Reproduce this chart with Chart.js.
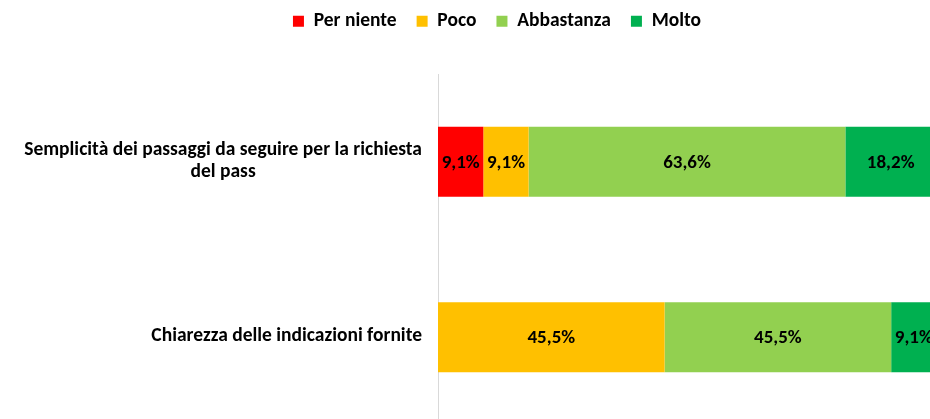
<!DOCTYPE html>
<html>
<head>
<meta charset="utf-8">
<script src="https://cdn.jsdelivr.net/npm/chart.js@4"></script>
<style>
    html, body { margin: 0; padding: 0; overflow: hidden; background: #fff; }
    #wrap { width: 940px; height: 430px; }
</style>
</head>
<body>
<div id="wrap"><canvas id="chart" width="940" height="430"></canvas></div>
<script>
// === DATI ===
const categories = [
    ["Semplicità dei passaggi da seguire per la richiesta", "del pass"],
    ["Chiarezza delle indicazioni fornite"]
];
const seriesNames = ["Per niente", "Poco", "Abbastanza", "Molto"];
const perNiente = [9.1, null];
const poco = [9.1, 45.5];
const abbastanza = [63.6, 45.5];
const molto = [18.2, 9.1];
const seriesColors = ["#FF0000", "#FFC000", "#92D050", "#00B050"];

const FONT = "Carlito, Lato, 'Liberation Sans', sans-serif";

Chart.defaults.font.family = FONT;
Chart.defaults.font.size = 19.5;
Chart.defaults.font.weight = "bold";
Chart.defaults.color = "#000";

const fmt = (v) => v.toFixed(1).replace(".", ",") + "%";

// etichette dentro le barre
const barLabels = {
    id: "barLabels",
    afterDatasetsDraw(chart) {
        const ctx = chart.ctx;
        ctx.save();
        ctx.font = "bold 19px " + FONT;
        ctx.fillStyle = "#000";
        ctx.textAlign = "center";
        ctx.textBaseline = "middle";
        chart.data.datasets.forEach((ds, di) => {
            const meta = chart.getDatasetMeta(di);
            meta.data.forEach((bar, i) => {
                const v = ds.data[i];
                if (v == null) return;
                const { x, base, y } = bar.getProps(["x", "base", "y"], true);
                ctx.fillText(fmt(v), (x + base) / 2, y + 1);
            });
        });
        ctx.restore();
    }
};

// etichette categorie: blocco allineato a destra, righe centrate
const catLabels = {
    id: "catLabels",
    afterDraw(chart) {
        const ctx = chart.ctx;
        const scale = chart.scales.y;
        const right = 422;
        const lh = 22;
        ctx.save();
        ctx.font = "bold 19.5px " + FONT;
        ctx.fillStyle = "#000";
        ctx.textAlign = "center";
        ctx.textBaseline = "middle";
        categories.forEach((lines, i) => {
            const yc = scale.getPixelForValue(i);
            const w = Math.max(...lines.map(l => ctx.measureText(l).width));
            const cx = right - w / 2;
            const y0 = yc - (lines.length - 1) * lh / 2 - 1;
            lines.forEach((l, k) => ctx.fillText(l, cx, y0 + k * lh));
        });
        ctx.restore();
    }
};

// sposta la legenda come nell'originale
const legendShift = {
    id: "legendShift",
    afterLayout(chart) {
        const lg = chart.legend;
        lg.left += 29; lg.right += 29;
        lg.top -= 33; lg.bottom -= 33;
    }
};

const datasetValues = [perNiente, poco, abbastanza, molto];

new Chart(document.getElementById("chart"), {
    type: "bar",
    data: {
        labels: categories,
        datasets: seriesNames.map((name, i) => ({
            label: name,
            data: datasetValues[i],
            backgroundColor: seriesColors[i],
            borderWidth: 0,
            barPercentage: 1,
            categoryPercentage: 0.4
        }))
    },
    options: {
        indexAxis: "y",
        responsive: false,
        animation: false,
        layout: { padding: { top: 24.5, right: 4, bottom: 5, left: 0 } },
        scales: {
            x: { stacked: true, min: 0, max: 100, display: false },
            y: {
                stacked: true,
                grid: { display: false },
                border: { display: true, color: "#d9d9d9", width: 1 },
                ticks: { display: false },
                afterFit: (s) => { s.width = 438; }
            }
        },
        plugins: {
            legend: {
                position: "top",
                labels: { boxWidth: 11, boxHeight: 11, padding: 20, font: { size: 19.5, weight: "bold" } }
            },
            tooltip: { enabled: false }
        }
    },
    plugins: [barLabels, catLabels, legendShift]
});
</script>
</body>
</html>
